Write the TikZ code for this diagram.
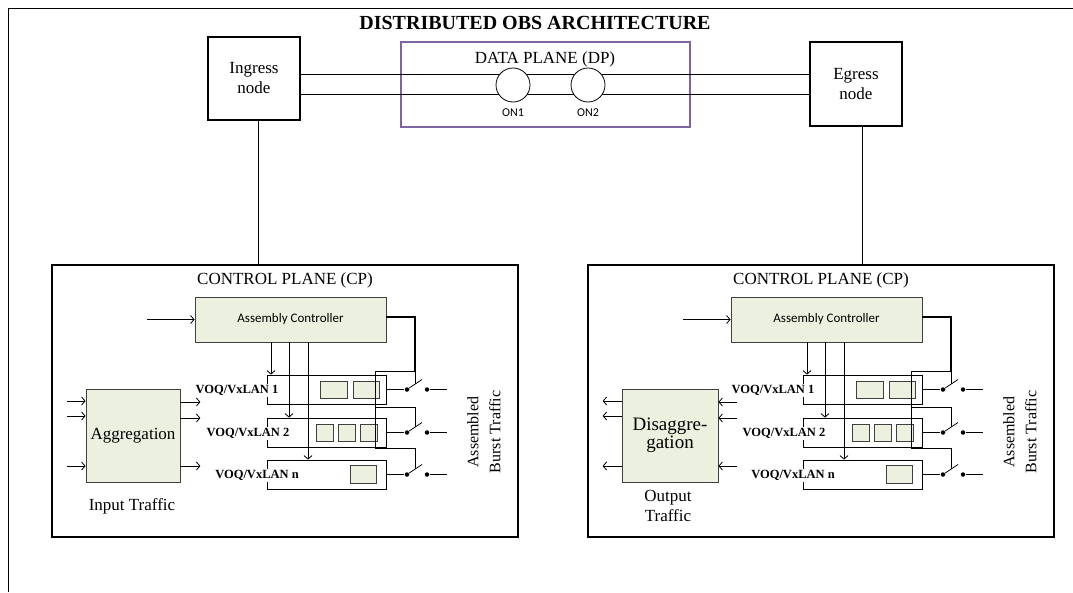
\documentclass[tikz,border=0pt]{standalone}
\usepackage{fontspec}
\setmainfont{Liberation Serif}
\newfontfamily\calibri{Carlito}
\usetikzlibrary{arrows.meta}

\definecolor{boxgreen}{RGB}{235,241,222}
\definecolor{dpviolet}{RGB}{128,100,162}

\begin{document}
\begin{tikzpicture}[x=1pt, y=-1pt, line width=0.8pt, >={Straight Barb[length=3.5pt,width=8pt]},
    nodebox/.style={draw, line width=1.4pt, minimum width=92pt, minimum height=84pt, inner sep=0pt, align=center, font=\fontsize{17}{20}\selectfont},
    cpbox/.style={draw, line width=1.3pt, minimum width=466pt, minimum height=272pt, inner sep=0pt},
    greenbox/.style={draw=black!75, fill=boxgreen, inner sep=0pt},
    queue/.style={draw, minimum width=119pt, minimum height=29pt, inner sep=0pt},
    voq/.style={fill=white, inner sep=1pt, font=\bfseries\fontsize{12.5}{14}\selectfont},
    dot/.style={circle, fill, inner sep=0pt, minimum size=4.5pt},
    onode/.style={draw, fill=white, circle, minimum size=34pt, inner sep=0pt},
    serif17/.style={font=\fontsize{17}{20}\selectfont, align=center}]

\useasboundingbox (0,0) rectangle (1073,592);
\draw (8,592) -- (8,8) -- (1073,8);

\node[font=\bfseries\fontsize{20}{24}\selectfont] (title) at (535,23) {DISTRIBUTED OBS ARCHITECTURE};

% data plane with the two edge nodes
\node[draw=dpviolet, line width=1.3pt, minimum width=289pt, minimum height=85pt] (dp) at (545.5,84.5) {};
\node[serif17] (dplabel) at (545,59) {DATA PLANE (DP)};
\node[nodebox, minimum height=83pt] (ingress) at (254,78.5) {Ingress\\node};
\node[nodebox] (egress) at (856,84) {Egress\\node};
\draw (ingress.east |- 0,74) -- (egress.west |- 0,74);
\draw (ingress.east |- 0,94) -- (egress.west |- 0,94);
\node[onode] (on1) at (513,85) {};
\node[onode] (on2) at (588,85) {};
\node[font=\calibri\fontsize{12}{14}\selectfont] (on1lbl) at (513,113) {ON1};
\node[font=\calibri\fontsize{12}{14}\selectfont] (on2lbl) at (588,113) {ON2};

% control planes
\foreach \dx/\s in {0/L, 536/R} {
  \begin{scope}[xshift=\dx pt]
    \node[cpbox] (cp\s) at (285,401) {};
    \node[serif17] (cptitle\s) at (285,280) {CONTROL PLANE (CP)};
    \node[greenbox, minimum width=191pt, minimum height=45pt, font=\calibri\fontsize{13}{15}\selectfont] (ac\s) at (290.5,319.5) {Assembly Controller};
    \draw[<-] (ac\s.west) -- ++(-48,0);

    \foreach \q/\y/\lx in {1/389.5/237, 2/432.5/248, n/474.5/257} {
      \node[queue] (q\q\s) at (326.5,\y) {};
      \node[voq] (voq\q\s) at (\lx,\y+1) {VOQ/VxLAN \q};
      \node[dot] (swa\q\s) at (407,\y) {};
      \node[dot] (swb\q\s) at (427,\y) {};
      \draw (q\q\s.east) -- (swa\q\s);
      \draw (swa\q\s) -- ++(15,-10);
      \draw (swb\q\s) -- ++(20,0);
    }

    % buffered bursts
    \node[greenbox, minimum width=27pt, minimum height=17pt] (c11\s) at (333.5,389.5) {};
    \node[greenbox, minimum width=26pt, minimum height=17pt] (c12\s) at (366,389.5) {};
    \node[greenbox, minimum width=17pt, minimum height=17pt] (c21\s) at (324.5,432.5) {};
    \node[greenbox, minimum width=17pt, minimum height=17pt] (c22\s) at (347,432.5) {};
    \node[greenbox, minimum width=17pt, minimum height=17pt] (c23\s) at (368.5,432.5) {};
    \node[greenbox, minimum width=26pt, minimum height=18pt] (cn1\s) at (363,474.5) {};

    \draw[->] (ac\s.south -| 271,0) -- (q1\s.north -| 271,0);
    \draw[->] (ac\s.south -| 289,0) -- (q2\s.north -| 289,0);
    \draw[->] (ac\s.south -| 308,0) -- (qn\s.north -| 308,0);

    % switch control
    \draw[line width=1.6pt] (ac\s.east |- 0,317) -- (415,317) -- (415,371);
    \draw (415,371) -- (415,384.2);
    \draw (415,371) -- (375,371) -- (375,448) -- (415,448) -- (415,469.2);
    \draw (375,407) -- (415,407) -- (415,427.2);

    \node[rotate=90, align=center, font=\fontsize{16}{22}\selectfont] (burst\s) at (484,432) {Assembled\\Burst Traffic};
  \end{scope}
}

% links down to the control planes
\draw ([xshift=4pt]ingress.south) -- ([xshift=4pt]ingress.south |- cpL.north);
\draw ([xshift=6pt]egress.south) -- ([xshift=6pt]egress.south |- cpR.north);

% traffic in and out
\node[greenbox, minimum width=94pt, minimum height=93pt, font=\fontsize{17}{20}\selectfont] (aggr) at (133,435.5) {Aggregation};
\foreach \y in {401,416,466} \draw[<-] (aggr.west |- 0,\y) -- ++(-19,0);
\foreach \y in {402,418,466} \draw[->] (aggr.east |- 0,\y) -- ++(20,0);
\node[serif17] (intraffic) at (132,506) {Input Traffic};

\node[greenbox, minimum width=96pt, minimum height=93pt, align=center, font=\fontsize{19}{18}\selectfont] (disaggr) at (670,435.5) {Disaggre-\\gation};
\foreach \y in {401,416,466} \draw[->] (disaggr.west |- 0,\y) -- ++(-19,0);
\foreach \y in {402,418,466} \draw[<-] (disaggr.east |- 0,\y) -- ++(19,0);
\node[serif17] (outtraffic) at (668,506) {Output\\Traffic};

\end{tikzpicture}
\end{document}
